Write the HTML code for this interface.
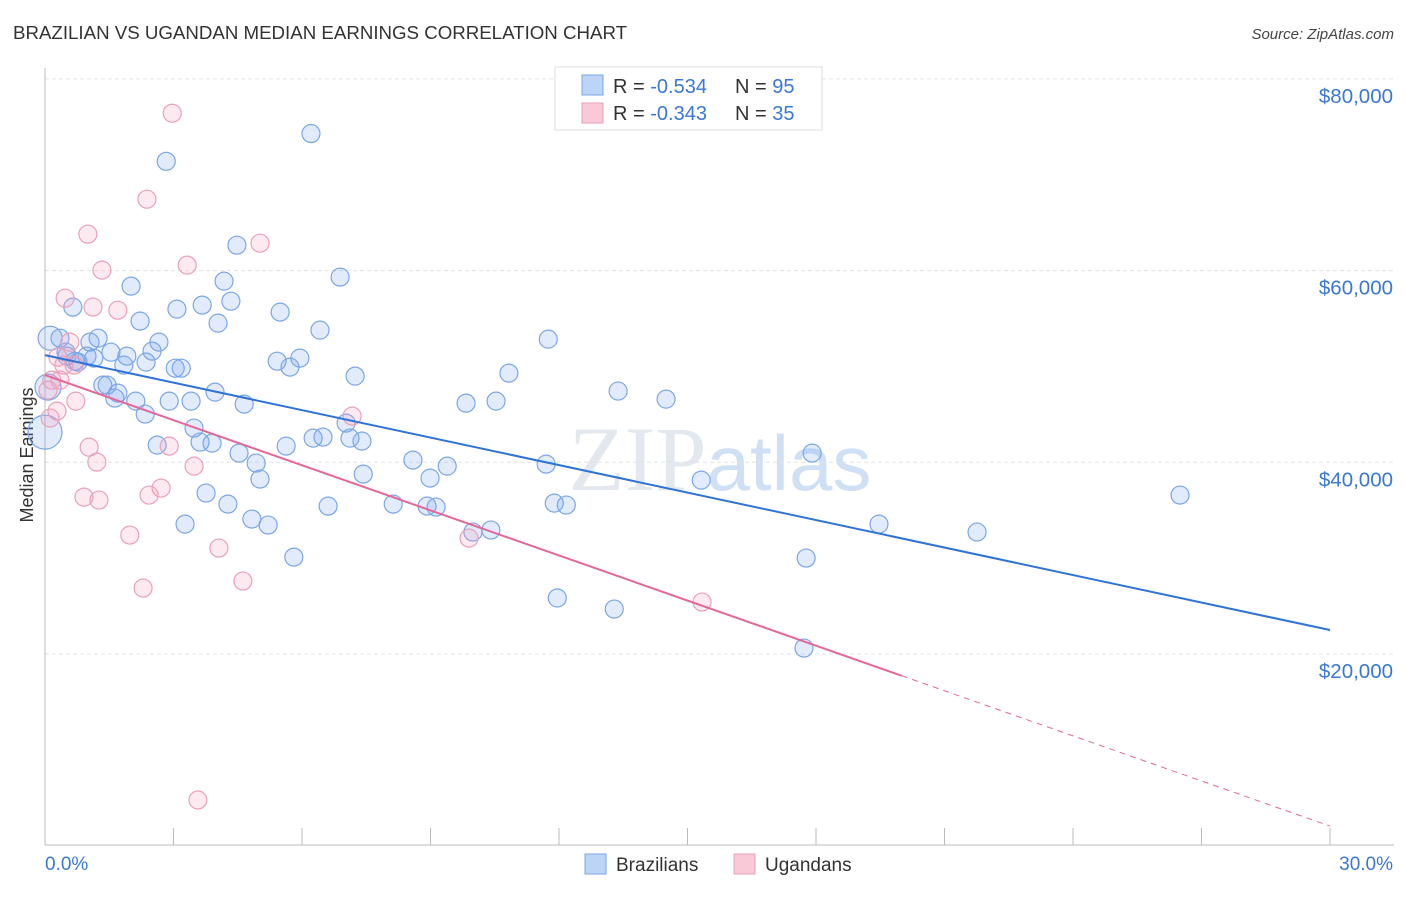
<!DOCTYPE html>
<html><head><meta charset="utf-8"><style>
body{margin:0;background:#fff;font-family:"Liberation Sans",sans-serif}
</style></head><body>
<svg id="chart" width="1406" height="892" viewBox="0 0 1406 892" xmlns="http://www.w3.org/2000/svg" font-family="Liberation Sans, sans-serif">
<text x="13" y="39" font-size="18.7" fill="#333">BRAZILIAN VS UGANDAN MEDIAN EARNINGS CORRELATION CHART</text>
<text x="1394" y="39" font-size="15" fill="#444" text-anchor="end" font-style="italic">Source: ZipAtlas.com</text>
<text x="720" y="490" font-size="92" fill="#e3e8ef" text-anchor="middle" font-family="Liberation Serif, serif">ZIP<tspan fill="#cfe0f5" font-family="Liberation Sans, sans-serif" font-size="78">atlas</tspan></text>
<g id="grid"></g>
<line x1="45" y1="68" x2="45" y2="845" stroke="#bbb"/>
<line x1="45" y1="845" x2="1394" y2="845" stroke="#bbb"/>
<g id="ticks"></g>
<text transform="translate(33,455) rotate(-90)" font-size="18" fill="#333" text-anchor="middle">Median Earnings</text>
<text x="45" y="870" font-size="19" fill="#3a78d4">0.0%</text>
<text x="1393" y="870" font-size="19" fill="#3a78d4" text-anchor="end">30.0%</text>
<g id="points"></g>
<g id="trends"></g>
<g>
<rect x="555" y="67" width="267" height="63" fill="#fff" stroke="#ddd"/>
<rect x="582" y="75" width="21" height="20" fill="#bcd4f5" stroke="#7aa6e6"/>
<text x="613" y="93" font-size="20" fill="#333">R = <tspan fill="#3a78d4">-0.534</tspan></text>
<text x="735" y="93" font-size="20" fill="#333">N = <tspan fill="#3a78d4">95</tspan></text>
<rect x="582" y="103" width="21" height="20" fill="#f9c9d8" stroke="#eaa0b9"/>
<text x="613" y="120" font-size="20" fill="#333">R = <tspan fill="#3a78d4">-0.343</tspan></text>
<text x="735" y="120" font-size="20" fill="#333">N = <tspan fill="#3a78d4">35</tspan></text>
</g>
<g>
<rect x="585" y="854" width="21" height="20" fill="#bcd4f5" stroke="#7aa6e6"/>
<text x="616" y="871" font-size="19" fill="#333">Brazilians</text>
</g>
<g>
<rect x="734" y="854" width="21" height="20" fill="#f9c9d8" stroke="#eaa0b9"/>
<text x="765" y="871" font-size="19" fill="#333">Ugandans</text>
</g>
</svg>
<script>
const yTicks=[20000,40000,60000,80000];
const yTickLabels=["$20,000","$40,000","$60,000","$80,000"];
const xTicks=[3,6,9,12,15,18,21,24,27,30];
const braX=[6.21,2.83,4.48,4.18,2.01,6.89,4.34,3.67,3.08,5.49,0.65,2.22,4.04,6.42,11.75,0.35,1.24,1.05,2.66,2.50,1.54,1.91,0.98,1.14,0.51,0.77,5.42,5.95,5.72,1.84,3.04,2.36,3.18,7.24,10.83,1.35,1.45,3.97,1.70,13.38,1.63,2.12,2.90,3.41,4.65,9.83,10.53,14.50,2.34,7.03,3.48,6.26,6.49,7.12,7.40,3.62,3.90,2.62,5.63,4.53,17.91,8.59,4.93,9.39,11.70,8.99,7.43,5.02,15.32,26.50,3.76,4.27,8.13,6.61,8.92,9.13,11.89,12.17,4.83,3.27,5.21,10.41,9.99,19.47,21.76,5.81,17.77,11.96,13.29,17.72,0.12,0.07,0.0,0.49,0.70];
const braY=[74300,71400,62650,58900,58380,59320,56810,56400,55980,55670,56190,54730,54520,53790,52850,52950,52950,52540,52540,51600,51490,51080,51080,50870,51080,50450,50550,50870,49930,50140,49820,50450,49820,48990,49300,48050,48050,47320,47220,47430,46700,46380,46380,46380,46070,46170,46380,46590,45030,44090,43570,42520,42630,42520,42210,42110,42000,41790,41690,40960,40960,40230,39920,39600,39810,38350,38770,38250,38140,36580,36790,35640,35640,35430,35430,35330,35740,35540,34080,33550,33450,32930,32720,33550,32720,30110,30010,25840,24690,20620,52950,47840,43150,51490,50550];
const braR=[9,9,9,9,9,9,9,9,9,9,9,9,9,9,9,9,9,9,9,9,9,9,9,9,9,9,9,9,9,9,9,9,9,9,9,9,9,9,9,9,9,9,9,9,9,9,9,9,9,9,9,9,9,9,9,9,9,9,9,9,9,9,9,9,9,9,9,9,9,9,9,9,9,9,9,9,9,9,9,9,9,9,9,9,9,9,9,9,9,9,12,13,17,9,9];
const ugaX=[2.97,2.38,1.00,5.02,3.32,1.33,0.47,1.12,1.70,0.58,0.30,0.68,0.16,0.35,0.28,0.12,0.72,7.17,1.03,2.90,1.21,3.48,0.91,1.26,2.43,2.71,1.98,4.06,9.90,2.29,4.62,15.34,3.57,0.07,0.44];
const ugaY=[76420,67450,63800,62860,60570,60050,57120,56190,55870,52540,50970,50140,48570,48570,45340,44610,46380,44820,41580,41690,40020,39600,36370,36060,36580,37310,32410,31050,32090,26880,27610,25420,4770,47530,50140];
const braTrend=[51180,22500];
const ugaTrend=[49100,2050];
const ugaSolidEnd=20.0;

const NS="http://www.w3.org/2000/svg";
const xs=v=>45+v/30*1285;
const ys=v=>845.7-v*0.009585;
function mk(tag,attrs,parent){const e=document.createElementNS(NS,tag);for(const k in attrs)e.setAttribute(k,attrs[k]);parent.appendChild(e);return e;}
const grid=document.getElementById('grid');
yTicks.forEach((t,i)=>{
  const l=mk('line',{x1:45,x2:1394,y1:ys(t),y2:ys(t),stroke:'#e2e2e2','stroke-dasharray':'4,3'},grid);
  
  
  const tx=mk('text',{x:1393,y:ys(t)+24,'font-size':20.5,fill:'#3a78d4','text-anchor':'end'},grid);
  
  
  tx.textContent=yTickLabels[i];
});
const ticks=document.getElementById('ticks');
xTicks.forEach(t=>{
  const l=mk('line',{x1:xs(t),x2:xs(t),y1:828,y2:845,stroke:'#bbb'},ticks);
  
  
});
const pts=document.getElementById('points');
braX.forEach((v,i)=>{
  const c=mk('circle',{cx:xs(v),cy:ys(braY[i]),r:braR[i],fill:'rgba(120,165,235,0.22)',stroke:'#7aa6e6','stroke-width':1.2},pts);
  
  
});
ugaX.forEach((v,i)=>{
  const c=mk('circle',{cx:xs(v),cy:ys(ugaY[i]),r:9,fill:'rgba(245,160,190,0.22)',stroke:'#eaa0b9','stroke-width':1.2},pts);
  
  
});
const tr=document.getElementById('trends');
const b=mk('line',{x1:xs(0),y1:ys(braTrend[0]),x2:xs(30),y2:ys(braTrend[1]),stroke:'#2f72d8','stroke-width':2},tr);


const uAt=x=>ugaTrend[0]+(ugaTrend[1]-ugaTrend[0])*x/30;
const u=mk('line',{x1:xs(0),y1:ys(ugaTrend[0]),x2:xs(ugaSolidEnd),y2:ys(uAt(ugaSolidEnd)),stroke:'#e5679a','stroke-width':2},tr);


const ud=mk('line',{x1:xs(ugaSolidEnd),y1:ys(uAt(ugaSolidEnd)),x2:xs(30),y2:ys(ugaTrend[1]),stroke:'#e5679a','stroke-width':1,'stroke-dasharray':'6,5'},tr);


</script>
</body></html>
